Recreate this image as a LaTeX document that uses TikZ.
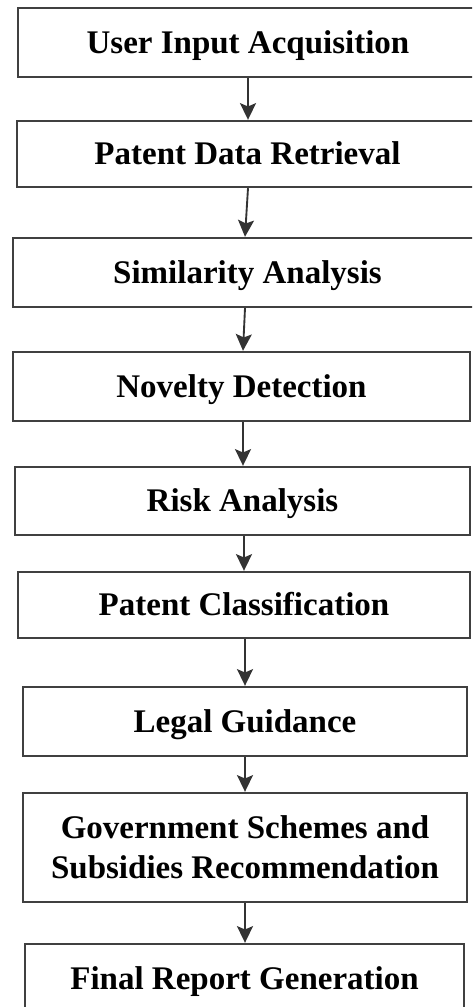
\documentclass[tikz,border=0pt]{standalone}
\usepackage{fontspec}
\setmainfont{Liberation Serif}
\usetikzlibrary{arrows.meta}
\begin{document}
\begin{tikzpicture}[x=0.75pt,y=-0.75pt,
  stepbox/.style={draw=black!75, line width=1.8pt, fill=white, inner sep=0pt,
    font=\fontsize{24.75}{30}\selectfont\bfseries, text=black,
    text height=16.4pt, text depth=0pt},
  twobox/.style={draw=black!75, line width=1.8pt, fill=white, inner sep=0pt,
    font=\fontsize{24.75}{30}\selectfont\bfseries, text=black, align=center},
  flow/.style={draw=black!80, line width=1.4pt,
    -{Stealth[width=12pt,length=12.5pt,inset=2.5pt]}}]
\useasboundingbox (0,0) rectangle (472,1007);
\fill[white] (0,0) rectangle (472,1007);
\begin{scope}
\clip (0,0) rectangle (472,1007);
\node[stepbox, minimum width=460*0.75pt, minimum height=69*0.75pt] (b1) at (248,42.5) {User Input Acquisition};
\node[stepbox, minimum width=461*0.75pt, minimum height=66*0.75pt] (b2) at (247.5,154) {Patent Data Retrieval};
\node[stepbox, minimum width=469*0.75pt, minimum height=69*0.75pt] (b3) at (247.5,272.5) {Similarity Analysis};
\node[stepbox, minimum width=457*0.75pt, minimum height=69*0.75pt] (b4) at (241.5,386.5) {Novelty Detection};
\node[stepbox, minimum width=455*0.75pt, minimum height=68*0.75pt] (b5) at (242.5,501) {Risk Analysis};
\node[stepbox, minimum width=452*0.75pt, minimum height=66*0.75pt] (b6) at (244,605) {Patent Classification};
\node[stepbox, minimum width=444*0.75pt, minimum height=69*0.75pt] (b7) at (245,721.5) {Legal Guidance};
\node[twobox, minimum width=444*0.75pt, minimum height=109*0.75pt] (b8) at (245,847.5) {Government Schemes and\\Subsidies Recommendation};
\node[stepbox, minimum width=439*0.75pt, minimum height=69*0.75pt] (b9) at (244.5,978.5) {Final Report Generation};
\end{scope}
\draw[flow] (b1.south -| 248,0) -- (b2.north -| 248,0);
\draw[flow] (b2.south -| 248,0) -- (b3.north -| 245,0);
\draw[flow] (b3.south -| 245,0) -- (b4.north -| 243,0);
\draw[flow] (b4.south -| 243,0) -- (b5.north -| 243,0);
\draw[flow] (b5.south -| 244,0) -- (b6.north -| 244,0);
\draw[flow] (b6.south -| 245,0) -- (b7.north -| 245,0);
\draw[flow] (b7.south -| 245,0) -- (b8.north -| 245,0);
\draw[flow] (b8.south -| 245,0) -- (b9.north -| 245,0);
\end{tikzpicture}
\end{document}
